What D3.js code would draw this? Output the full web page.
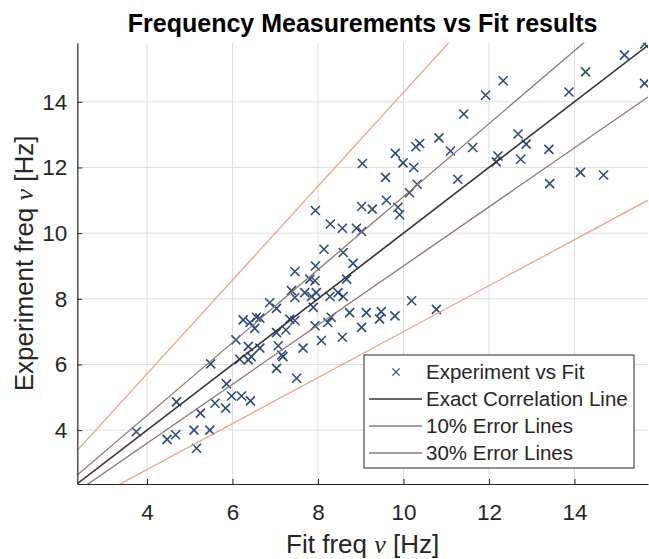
<!DOCTYPE html>
<html>
<head>
<meta charset="utf-8">
<script src="https://cdn.jsdelivr.net/npm/d3@7"></script>
<style>
  body { margin: 0; background: #fff; }
  svg { display: block; font-family: "Liberation Sans", Arial, Helvetica, sans-serif; }
</style>
</head>
<body>
<svg id="chart"></svg>
<script>
const fitFreq = [
  7.94, 9.02, 9.27, 9.60, 9.87, 9.91, 8.29, 8.57, 8.90, 9.02,
  8.14, 8.59, 8.82, 7.46, 7.94, 7.81, 7.93, 8.67, 7.38, 7.46,
  7.69, 7.96, 7.85, 8.28, 8.47, 8.59, 6.87, 7.03, 7.89, 8.74,
  9.13, 9.48, 9.44, 9.80, 10.19, 10.77, 6.25, 6.56, 6.64, 6.41,
  6.52, 7.46, 7.34, 8.31, 8.23, 7.93, 9.02, 7.03, 7.25, 6.08,
  6.37, 6.64, 7.07, 7.65, 8.08, 8.57, 6.17, 6.37, 6.44, 7.15,
  7.18, 7.03, 7.50, 5.49, 5.86, 5.98, 6.21, 6.42, 5.59, 5.84,
  5.25, 5.10, 5.47, 5.16, 3.75, 4.47, 4.67, 4.69,
  15.64, 15.17, 15.64, 14.26, 13.87, 12.33, 11.92, 11.41, 11.62, 11.10,
  10.83, 10.38, 10.29, 9.81, 9.99, 10.24, 9.04, 9.58, 11.27, 12.68,
  12.87, 12.74, 12.21, 12.17, 13.40, 13.42, 14.14, 14.68, 10.32, 10.14
];
const expFreq = [
  10.69, 10.81, 10.73, 11.00, 10.79, 10.56, 10.28, 10.15, 10.15, 10.05,
  9.51, 9.41, 9.08, 8.83, 9.00, 8.60, 8.55, 8.60, 8.25, 8.04,
  8.19, 8.19, 8.07, 8.07, 8.19, 8.07, 7.88, 7.71, 7.74, 7.58,
  7.58, 7.61, 7.39, 7.48, 7.94, 7.68, 7.36, 7.44, 7.41, 7.28,
  7.10, 7.34, 7.38, 7.44, 7.28, 7.18, 7.13, 6.97, 7.05, 6.75,
  6.55, 6.50, 6.57, 6.50, 6.73, 6.83, 6.16, 6.14, 6.24, 6.29,
  6.24, 5.88, 5.58, 6.02, 5.41, 5.04, 5.04, 4.89, 4.82, 4.67,
  4.52, 4.00, 4.00, 3.45, 3.95, 3.72, 3.86, 4.86,
  15.76, 15.42, 14.56, 14.91, 14.30, 14.64, 14.20, 13.63, 12.61, 12.50,
  12.90, 12.73, 12.63, 12.43, 12.14, 12.00, 12.12, 11.70, 11.64, 13.02,
  12.71, 12.25, 12.35, 12.17, 12.55, 11.51, 11.85, 11.77, 11.49, 11.23
];

// reference lines y = k * x
const lineNames = ["Exact Correlation Line", "10% Error Lines", "10% Error Lines", "30% Error Lines", "30% Error Lines"];
const lineSlopes = [1, 1 / 0.9, 0.9, 1 / 0.7, 0.7];
const lineColors = ["#333333", "#8f7770", "#8f7770", "#e9a48f", "#e9a48f"];

const xTicks = [4, 6, 8, 10, 12, 14];
const yTicks = [4, 6, 8, 10, 12, 14];
const xDomain = [2.37, 15.72];
const yDomain = [2.36, 15.8];

const legendItems = ["Experiment vs Fit", "Exact Correlation Line", "10% Error Lines", "30% Error Lines"];

const width = 649;
const height = 559;
const marginTop = 42.7;
const marginRight = 1;
const marginBottom = 75;
const marginLeft = 77.3;

const svg = d3.select("#chart")
  .attr("width", width)
  .attr("height", height)
  .attr("viewBox", [0, 0, width, height]);

const x = d3.scaleLinear().domain(xDomain).range([marginLeft, width - marginRight]);
const y = d3.scaleLinear().domain(yDomain).range([height - marginBottom, marginTop]);

const axisColor = "#262626";

svg.append("defs").append("clipPath").attr("id", "plot")
  .append("rect")
  .attr("x", marginLeft).attr("y", marginTop)
  .attr("width", x.range()[1] - marginLeft)
  .attr("height", y.range()[0] - marginTop);

// grid
const grid = svg.append("g").attr("stroke", "#dedede").attr("stroke-width", 1);
grid.selectAll(".vx").data(xTicks).join("line")
  .attr("x1", d => x(d)).attr("x2", d => x(d))
  .attr("y1", y.range()[0]).attr("y2", marginTop);
grid.selectAll(".hy").data(yTicks).join("line")
  .attr("y1", d => y(d)).attr("y2", d => y(d))
  .attr("x1", marginLeft).attr("x2", x.range()[1]);

// scatter
const cross = "M-4.5,-4.5L4.5,4.5M-4.5,4.5L4.5,-4.5";
svg.append("g")
  .attr("clip-path", "url(#plot)")
  .selectAll("path")
  .data(fitFreq.map((f, i) => [f, expFreq[i]]))
  .join("path")
  .attr("transform", d => `translate(${x(d[0])},${y(d[1])})`)
  .attr("d", cross)
  .attr("fill", "none")
  .attr("stroke", "#2f4a7c")
  .attr("stroke-width", 1.6);

// correlation and error lines
svg.append("g")
  .attr("clip-path", "url(#plot)")
  .selectAll("line")
  .data(lineSlopes.map((k, i) => ({ k, color: lineColors[i] })).reverse())
  .join("line")
  .attr("x1", x(xDomain[0])).attr("y1", d => y(d.k * xDomain[0]))
  .attr("x2", x(xDomain[1])).attr("y2", d => y(d.k * xDomain[1]))
  .attr("stroke", d => d.color)
  .attr("stroke-width", d => d.k === 1 ? 1.6 : 1.3);

// axes
const xAxis = svg.append("g")
  .attr("transform", `translate(0,${y.range()[0]})`)
  .call(d3.axisBottom(x).tickValues(xTicks).tickSize(-5).tickPadding(20).tickSizeOuter(0));
const yAxis = svg.append("g")
  .attr("transform", `translate(${marginLeft},0)`)
  .call(d3.axisLeft(y).tickValues(yTicks).tickSize(-5).tickPadding(10).tickSizeOuter(0));

[xAxis, yAxis].forEach(g => {
  g.select(".domain").attr("stroke", axisColor).attr("stroke-width", 1.2);
  g.selectAll(".tick line").attr("stroke", axisColor).attr("stroke-width", 1);
  g.selectAll(".tick text")
    .attr("fill", axisColor)
    .attr("font-size", 22.5)
    .attr("font-family", "Liberation Sans, Arial, sans-serif");
});

// axis labels
const nu = "\u03bd";
const xLabel = svg.append("text")
  .attr("x", (marginLeft + x.range()[1]) / 2)
  .attr("y", 553)
  .attr("text-anchor", "middle")
  .attr("fill", axisColor)
  .attr("font-size", 26);
xLabel.append("tspan").text("Fit freq ");
xLabel.append("tspan").attr("font-family", "Liberation Serif, serif").attr("font-style", "italic").text(nu);
xLabel.append("tspan").text(" [Hz]");

const yLabel = svg.append("text")
  .attr("transform", `translate(33,${(marginTop + y.range()[0]) / 2}) rotate(-90)`)
  .attr("text-anchor", "middle")
  .attr("fill", axisColor)
  .attr("font-size", 26);
yLabel.append("tspan").text("Experiment freq ");
yLabel.append("tspan").attr("font-family", "Liberation Serif, serif").attr("font-style", "italic").text(nu);
yLabel.append("tspan").text(" [Hz]");

// title
svg.append("text")
  .attr("x", (marginLeft + x.range()[1]) / 2)
  .attr("y", 32)
  .attr("text-anchor", "middle")
  .attr("font-weight", "bold")
  .attr("font-size", 25)
  .attr("fill", "#000")
  .text("Frequency Measurements vs Fit results");

// legend
const legend = svg.append("g").attr("transform", "translate(364,355)");
legend.append("rect")
  .attr("width", 270).attr("height", 113)
  .attr("fill", "#fff")
  .attr("stroke", axisColor)
  .attr("stroke-width", 1);

const legendColors = ["#2f4a7c", lineColors[0], lineColors[1], lineColors[2]];
const row = legend.selectAll("g.item")
  .data(legendItems)
  .join("g")
  .attr("transform", (d, i) => `translate(0,${17 + i * 27})`);

row.filter((d, i) => i === 0).append("path")
  .attr("transform", "translate(32,0) scale(0.8)")
  .attr("d", cross)
  .attr("fill", "none")
  .attr("stroke", legendColors[0])
  .attr("stroke-width", 1.6);
row.filter((d, i) => i > 0).append("line")
  .attr("x1", 5).attr("x2", 58)
  .attr("stroke", (d, i) => legendColors[i + 1])
  .attr("stroke-width", 1.4);
row.append("text")
  .attr("x", 62)
  .attr("dy", "0.36em")
  .attr("font-size", 20.5)
  .attr("fill", axisColor)
  .text(d => d);
</script>
</body>
</html>
